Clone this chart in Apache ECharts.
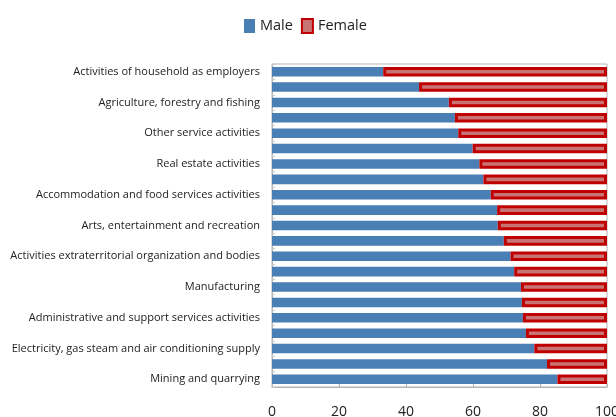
<!DOCTYPE html>
<html>
<head>
<meta charset="utf-8">
<script src="https://cdn.jsdelivr.net/npm/echarts@6/dist/echarts.min.js"></script>
<style>html,body{margin:0;padding:0;background:#fff}#c{width:616px;height:417px}</style>
</head>
<body>
<div id="c"></div>
<script>
const categories = [
  "Activities of household as employers",
  "Human health and social work activities",
  "Agriculture, forestry and fishing",
  "Education",
  "Other service activities",
  "Financial and insurance activities",
  "Real estate activities",
  "Wholesale and retail trade",
  "Accommodation and food services activities",
  "Professional, scientific and technical activities",
  "Arts, entertainment and recreation",
  "Information and communication",
  "Activities extraterritorial organization and bodies",
  "Public administration and defence",
  "Manufacturing",
  "Transportation and storage",
  "Administrative and support services activities",
  "Water supply, sewerage and waste management",
  "Electricity, gas steam and air conditioning supply",
  "Construction",
  "Mining and quarrying"
];
const male = [33.2, 43.9, 52.8, 54.6, 55.6, 59.9, 61.9, 63.1, 65.3, 67.2, 67.4, 69.2, 71.2, 72.3, 74.3, 74.6, 74.9, 75.8, 78.3, 82.1, 85.2];
const female = [66.8, 56.1, 47.2, 45.4, 44.4, 40.1, 38.1, 36.9, 34.7, 32.8, 32.6, 30.8, 28.8, 27.7, 25.7, 25.4, 25.1, 24.2, 21.7, 17.9, 14.8];
const xTicks = [0, 20, 40, 60, 80, 100];

const chart = echarts.init(document.getElementById('c'));
chart.setOption({
  animation: false,
  legend: {
    top: 13, left: 239,
    icon: 'rect', itemWidth: 11, itemHeight: 14, itemGap: 8, itemTextGap: 3,
    textStyle: { fontSize: 14.5, color: '#222', fontFamily: 'Open Sans' },
    data: ['Male', 'Female']
  },
  grid: { left: 272, right: 9, top: 64, bottom: 30, show: true, borderColor: '#b5b5b5', borderWidth: 1, containLabel: false, outerBoundsMode: 'none' },
  xAxis: {
    type: 'value', min: xTicks[0], max: xTicks[xTicks.length - 1], interval: 20,
    axisLine: { show: true, lineStyle: { color: '#b5b5b5' } },
    axisTick: { show: true, inside: true, length: 3, lineStyle: { color: '#b5b5b5' } },
    splitLine: { show: false },
    axisLabel: { fontSize: 14, color: '#222', margin: 18, fontFamily: 'Open Sans' }
  },
  yAxis: {
    type: 'category', inverse: true, data: categories,
    axisLine: { show: true, lineStyle: { color: '#b5b5b5' } },
    axisTick: { show: true, inside: true, length: 3, interval: 0, lineStyle: { color: '#c8c8c8' } },
    axisLabel: { interval: 1, fontSize: 11, color: '#222', margin: 12, fontFamily: 'Open Sans', padding: [3, 0, 0, 0] }
  },
  series: [
    { name: 'Male', type: 'bar', stack: 't', data: male, barCategoryGap: '38%',
      itemStyle: { color: '#4a7fb5' } },
    { name: 'Female', type: 'bar', stack: 't', data: female,
      itemStyle: { color: '#c87474', borderColor: '#c00000', borderWidth: 3 } }
  ]
});
</script>
</body>
</html>
